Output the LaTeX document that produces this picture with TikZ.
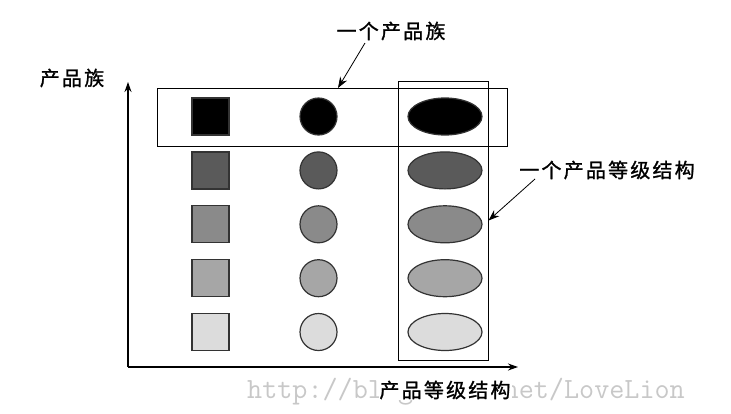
\documentclass[tikz,border=0pt]{standalone}
\usepackage{fontspec}
\newfontfamily\cjk[LetterSpace=11,FakeBold=1.2]{Noto Sans CJK SC}
\usetikzlibrary{shapes.geometric,arrows.meta}
\definecolor{edge}{HTML}{333333}
\definecolor{g1}{HTML}{000000}
\definecolor{g2}{HTML}{5A5A5A}
\definecolor{g3}{HTML}{8A8A8A}
\definecolor{g4}{HTML}{A6A6A6}
\definecolor{g5}{HTML}{DCDCDC}
\definecolor{wm}{HTML}{C8C8C8}
\begin{document}
\begin{tikzpicture}[x=1pt,y=-1pt,
  sq/.style={draw=edge, line width=1.2pt, rectangle, minimum size=37pt, inner sep=0pt},
  cir/.style={draw=edge, line width=1.2pt, circle, minimum size=37pt, inner sep=0pt},
  ell/.style={draw=edge, line width=1.2pt, ellipse, minimum width=74pt, minimum height=37pt, inner sep=0pt},
  frame/.style={draw=black, line width=1pt, rectangle, inner sep=0pt},
  lbl/.style={font=\cjk\fontsize{20}{24}\selectfont, inner sep=1pt},
  ptr/.style={-{Stealth[length=11pt,width=8pt]}, line width=0.8pt},
  axis/.style={-{Stealth[length=10pt,width=7pt]}, line width=1.3pt},
  wmark/.style={font=\ttfamily\fontsize{29.3}{31}\selectfont, text=wm, inner sep=0pt, anchor=base west}]
\useasboundingbox[fill=white] (0,0) rectangle (731,413);
% watermark
\node[wmark] (wmk) at (247,398) {http://blog.csdn.net/LoveLion};
% axes
\coordinate (org) at (128,367);
\coordinate (ytip) at (128,82);
\coordinate (xtip) at (518,367);
\draw[axis] (org) -- (ytip);
\draw[axis] (org) -- (xtip);
% shapes
\foreach \i/\y/\c in {1/116.5/g1,2/170.4/g2,3/224.3/g3,4/278.2/g4,5/332/g5}{
  \node[sq, fill=\c] (s\i) at (210.5,\y) {};
  \node[cir, fill=\c] (c\i) at (318.5,\y) {};
  \node[ell, fill=\c] (e\i) at (445,\y) {};
}
% frames
\node[frame, minimum width=350pt, minimum height=58pt] (fam) at (332,117) {};
\node[frame, minimum width=90pt, minimum height=279pt] (grade) at (443,220.5) {};
% labels
\node[lbl] (ylab) at (72,78) {产品族};
\node[lbl] (famlab) at (391,31) {一个产品族};
\node[lbl] (gradelab) at (607,170) {一个产品等级结构};
\node[lbl, fill=white] (xlab) at (445,390) {产品等级结构};
% pointers
\coordinate (famtip) at (338,88);
\coordinate (famstart) at (365,43);
\coordinate (gradestart) at (535,179);
\draw[ptr] (famstart) -- (famtip);
\draw[ptr] (gradestart) -- (grade.east);
\end{tikzpicture}
\end{document}
